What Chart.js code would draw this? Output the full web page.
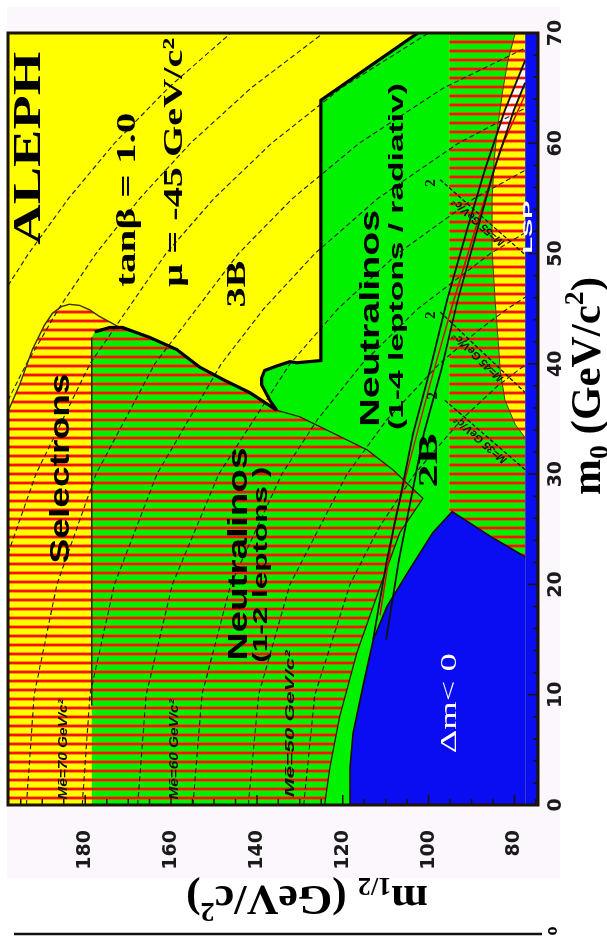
<!DOCTYPE html>
<html>
<head>
<meta charset="utf-8">
<title>ALEPH m0 - m1/2 exclusion</title>
<script src="https://cdn.jsdelivr.net/npm/chart.js@4.4.1/dist/chart.umd.min.js"></script>
<style>
  html, body { margin: 0; padding: 0; background: #ffffff; overflow: hidden; }
  /* the plot is laid out landscape and turned a quarter turn counter-clockwise */
  #stage { position: absolute; left: 0; top: 0; width: 939px; height: 607px;
           transform-origin: 0 0; transform: translateY(939px) rotate(-90deg); }
  #stage canvas { display: block; }
</style>
</head>
<body>
<div id="stage"><canvas id="plot" width="939" height="607"></canvas></div>
<script>
// ---------------- axes ----------------
const M0_RANGE = [0, 70];
const M12_RANGE = [74.5, 198];
const M0_TICKS = [0, 10, 20, 30, 40, 50, 60, 70];
const M12_TICKS = [80, 100, 120, 140, 160, 180];
const M0_MINOR_TICKS = [2,4,6,8,12,14,16,18,22,24,26,28,32,34,36,38,42,44,46,48,52,54,56,58,62,64,66,68];
const M12_MINOR_TICKS = [75,85,90,95,105,110,115,125,130,135,145,150,155,165,170,175,185,190,195];

// ---------------- regions, points are [m0, m1/2] ----------------
const ALLOWED = [[0,74.5],[70,74.5],[70,198],[0,198]];
const SELECTRON_EXCL = [[0,198],[35.7,198],[38.1,195.3],[41.3,192.3],[43.5,189.5],[44.6,187.6],[45.2,185.5],[45.4,183.7],[45.3,181.3],[44.9,179.0],[44.3,176.7],[43.8,174.3],[43.3,172.0],[43.2,170.6],[0,170.6]];
const NEUTRALINO_12L = [[0,178.5],[42.4,178.5],[42.9,177.8],[43.3,174.3],[43.3,171.3],[42.4,165.0],[41.3,158.7],[39.7,153.3],[38.5,147.5],[37.4,141.7],[35.8,135.4],[35.2,130.0],[32.2,114.3],[30.4,108.3],[27.8,101.3],[24.7,106.7],[19.8,111.3],[13.8,116.7],[8.0,120.7],[3.4,123.0],[0,124.2]];
const NEUTRALINO_14L = [[70,102.5],[70,95.2],[26.6,95.2],[26.6,94.5],[24.7,99.0],[21.0,105.0],[18.0,109.7],[15.0,112.9],[10.7,115.3],[6.5,117.6],[3.4,118.3],[0,118.3],[0,124.2],[3.4,123.0],[8.0,120.7],[13.8,116.7],[19.8,111.3],[24.7,106.7],[27.8,101.3],[30.4,108.3],[32.2,114.3],[35.2,130.0],[35.8,135.4],[36.7,137.0],[38.1,138.9],[38.7,138.9],[39.4,138.2],[39.8,135.4],[40.2,132.3],[40.1,130.7],[40.3,125.1],[63.9,125.1]];
const RIGHT_HATCH = [[70,95.2],[70,77.5],[22.5,77.5],[26.6,94.5],[26.6,95.2]];
const RIGHT_SELECTRON = [[70,79.8],[67.5,81.5],[64.8,82.7],[61.2,84.0],[58.5,84.7],[54.9,85.2],[50.3,85.2],[45.8,84.5],[42.2,83.8],[39.4,83.3],[36.7,82.2],[34.5,79.8],[33.3,77.5],[70,77.5]];
const DM_NEGATIVE = [[0,118.3],[3.4,118.3],[6.5,117.6],[10.7,115.3],[15.0,112.9],[18.0,109.7],[21.0,105.0],[24.7,99.0],[26.6,94.5],[24.4,85.7],[22.5,77.5],[0,77.5]];
const LSP_STRIP = [[0,74.5],[70,74.5],[70,77.5],[0,77.5]];
const LIMIT_BAND = [[61,83.9],[63.0,82.2],[67.5,77.5],[65.5,77.5],[63.0,80.1],[61,81.8]];

// ---------------- boundary lines ----------------
const SELECTRON_EDGE = [[35.7,198],[38.1,195.3],[41.3,192.3],[43.5,189.5],[44.6,187.6],[45.2,185.5],[45.4,183.7],[45.3,181.3],[44.9,179.0],[44.3,176.7],[43.8,174.3],[43.3,172.0],[42.4,165.0]];
const RIGHT_SELECTRON_EDGE = [[70,79.8],[67.5,81.5],[64.8,82.7],[61.2,84.0],[58.5,84.7],[54.9,85.2],[50.3,85.2],[45.8,84.5],[42.2,83.8],[39.4,83.3],[36.7,82.2],[34.5,79.8],[33.3,77.5]];
const CHARGINO_EDGE = [[42.9,177.8],[43.3,174.3],[43.3,171.3],[42.4,165.0],[41.3,158.7],[39.7,153.3],[38.5,147.5],[37.4,141.7],[35.8,135.4]];
const THREE_B_EDGE = [[70,102.5],[63.9,125.1],[40.3,125.1],[40.1,130.7],[40.2,132.3],[39.8,135.4],[39.4,138.2],[38.7,138.9],[38.1,138.9],[36.7,137.0],[35.8,135.4]];
const HATCH_EDGE = [[35.8,135.4],[35.2,130.0],[32.2,114.3],[30.4,108.3],[27.8,101.3],[24.7,106.7],[19.8,111.3],[13.8,116.7],[8.0,120.7],[3.4,123.0],[0,124.2]];
const DM_EDGE = [[0,118.3],[3.4,118.3],[6.5,117.6],[10.7,115.3],[15.0,112.9],[18.0,109.7],[21.0,105.0],[24.7,99.0],[26.6,94.5],[24.4,85.7],[22.5,77.5]];
const SELECTRON_DIVIDER = [[9,178.5],[42.4,178.5]];
const LIMIT_A = [[15.0,112.9],[22.2,109.7],[27.7,106.7],[33.7,103.6],[39.4,99.7],[45.8,95.7],[52.1,91.1],[57.6,86.9],[63.0,82.2],[67.5,77.5]];
const LIMIT_B = [[15.0,109.9],[22.2,106.9],[27.7,104.1],[33.7,101.1],[39.4,97.1],[45.8,93.2],[52.1,88.7],[57.6,84.7],[63.0,80.1],[65.5,77.5]];
const LIMIT_RED = [[17.2,111.3],[25.8,107.9],[31.3,104.3],[38.1,99.7],[45.3,94.5],[52.1,89.2],[59.4,83.3],[64.4,77.5]];

// ---------------- selectron mass contours ----------------
const ME50 = [[0,129.1],[10,126.5],[20,118.3],[25,111.8],[30,103.3],[35,92.2],[38,83.9],[40.8,74.5]];
const ME55 = [[0,142.0],[10,139.6],[20,132.3],[30,119.0],[35,109.6],[40,97.5],[43,88.5],[45,81.6],[46.8,74.5]];
const ME60 = [[0,154.9],[10,152.8],[20,146.1],[30,134.2],[35,125.8],[40,115.5],[45,102.5],[50,85.6],[52.6,74.5]];
const ME65 = [[0,167.8],[10,165.8],[20,159.7],[30,148.9],[40,132.3],[45,121.1],[50,107.2],[55,89.4],[58.2,74.5]];
const ME70 = [[0,180.7],[10,178.9],[20,173.2],[30,163.3],[40,148.3],[45,138.4],[50,126.5],[55,111.8],[60,93.1],[63.8,74.5]];
const ME75 = [[0,193.7],[10,191.9],[20,186.6],[30,177.5],[40,163.8],[50,144.3],[55,131.7],[60,116.2],[65,96.6],[69.2,74.5]];
const ME80 = [[22.8,198],[30,191.5],[40,178.9],[50,161.2],[55,150.0],[60,136.6],[65,120.4],[70,100.0]];
const ME85 = [[36.7,198],[40,193.7],[45,186.2],[50,177.5],[55,167.3],[60,155.5],[65,141.4],[70,124.5]];
const ME90 = [[47.1,198],[50,193.2],[55,183.9],[60,173.2],[65,160.7],[70,146.1]];

// ---------------- second-neutralino mass lines in the low m1/2 strip ----------------
const MX_A = [[56.7,97.3],[49.9,77.5]];
const MX_B = [[44.7,97.3],[37.4,77.5]];
const MX_C = [[36.7,96.2],[30.4,77.5]];

// ---------------- annotations: text, anchor [m0 at text start, m1/2 at text centre] ----------------
const NOTES = [
  ['ALEPH', 50.8, 193.0],
  ['tanβ = 1.0', 47.0, 170.0],
  ['μ = -45 GeV/c²', 47.0, 159.2],
  ['Selectrons', 21.9, 185.5],
  ['3B', 45.1, 144.5],
  ['Neutralinos', 13.1, 144.0],
  ['(1-2 leptons )', 12.9, 138.9],
  ['Neutralinos', 34.3, 113.2],
  ['(1-4 leptons / radiativ)', 34.0, 107.3],
  ['2B', 28.8, 99.7],
  ['Δm< 0', 4.7, 95.0],
  ['LSP', 50.0, 76.6],
  ['Mẽ=70 GeV/c²', 0.5, 185.0],
  ['Mẽ=60 GeV/c²', 0.5, 159.2],
  ['Mẽ=50 GeV/c²', 0.7, 132.1],
  ['2', 56.4, 99.5],
  ['2', 44.4, 99.5],
  ['2', 37.1, 99.0]
];
// labels laid along the strip lines: text, line it follows
const LINE_NOTES = [
  ['M=55 GeV/c²', MX_A],
  ['M=45 GeV/c²', MX_B],
  ['M=35 GeV/c²', MX_C]
];

// ---------------- styles ----------------
const SERIF = '"Liberation Serif", "Times New Roman", serif';
const SANS = '"Liberation Sans", Arial, sans-serif';
const NOTE_STYLE = [
  { font: 'bold 40px ' + SERIF, len: 193, color: '#000' },
  { font: 'bold 28px ' + SERIF, len: 174, color: '#000' },
  { font: 'bold 28px ' + SERIF, len: 249, color: '#000' },
  { font: 'bold 27px ' + SANS, len: 190, color: '#000' },
  { font: 'bold 28px ' + SERIF, len: 47, color: '#000' },
  { font: 'bold 27px ' + SANS, len: 213, color: '#000' },
  { font: 'bold 21px ' + SANS, len: 196, color: '#000' },
  { font: 'bold 27px ' + SANS, len: 217, color: '#000' },
  { font: 'bold 21px ' + SANS, len: 347, color: '#000' },
  { font: 'bold 28px ' + SERIF, len: 54, color: '#000' },
  { font: '24px ' + SERIF, len: 100, color: '#ffffff' },
  { font: 'bold 12px ' + SANS, len: 53, color: '#ffffff' },
  { font: 'bold italic 12px ' + SANS, len: 100, color: '#111' },
  { font: 'bold italic 12px ' + SANS, len: 100, color: '#111' },
  { font: 'bold italic 12px ' + SANS, len: 147, color: '#111' },
  { font: 'bold 15px ' + SERIF, len: 0, color: '#111' },
  { font: 'bold 15px ' + SERIF, len: 0, color: '#111' },
  { font: 'bold 15px ' + SERIF, len: 0, color: '#111' }
];
const LINE_NOTE_FONT = 'bold italic 11px ' + SANS;

const plotCanvas = document.getElementById('plot');
const plotCtx = plotCanvas.getContext('2d');

// red-lined hatching, lines run at constant m0
function stripes(base, halo, line) {
  const tile = document.createElement('canvas');
  tile.width = 9; tile.height = 1;
  const g = tile.getContext('2d');
  [base, base, base, base, halo, line, line, halo, base].forEach((c, i) => {
    g.fillStyle = c; g.fillRect(i, 0, 1, 1);
  });
  return plotCtx.createPattern(tile, 'repeat');
}
const YELLOW = '#ffff00';
const GREEN = '#00f200';
const BLUE = '#0a0cf2';
const HATCH_ORANGE = stripes('#ffff00', '#ff9a00', '#f81200');
const HATCH_GREEN = stripes('#00f000', '#7c9000', '#f81200');
const HATCH_PALE = stripes('#fff6f6', '#f2b0b0', '#f01000');

const pts = a => a.map(p => ({ x: p[0], y: p[1] }));
const datasets = [];
function area(label, a, fill, order) {
  datasets.push({ label, data: pts(a), fill: 'shape', backgroundColor: fill,
    borderColor: 'rgba(0,0,0,0)', borderWidth: 0, borderDash: [1, 0],
    pointRadius: 0, tension: 0, order });
}
function curve(label, a, color, width, dash, order) {
  datasets.push({ label, data: pts(a), fill: false, borderColor: color, borderWidth: width,
    borderDash: dash, pointRadius: 0, tension: 0, order, borderCapStyle: 'butt' });
}

area('allowed', ALLOWED, YELLOW, 100);
area('selectrons', SELECTRON_EXCL, HATCH_ORANGE, 95);
area('neutralinos 1-2 leptons', NEUTRALINO_12L, HATCH_GREEN, 90);
area('neutralinos 1-4 leptons', NEUTRALINO_14L, GREEN, 85);
area('hatched strip', RIGHT_HATCH, HATCH_GREEN, 80);
area('selectrons (low m1/2)', RIGHT_SELECTRON, HATCH_ORANGE, 75);
area('limit band', LIMIT_BAND, HATCH_PALE, 72);
[ME50, ME55, ME60, ME65, ME70, ME75, ME80, ME85, ME90].forEach((c, i) =>
  curve('m_selectron ' + (50 + 5 * i), c, '#1e1e1e', 1.1, [5, 3], 60));
[MX_A, MX_B, MX_C].forEach((c, i) => curve('m_neutralino ' + i, c, '#141414', 1.3, [4, 2], 58));
area('dm < 0', DM_NEGATIVE, BLUE, 50);
area('LSP', LSP_STRIP, BLUE, 49);
curve('selectron edge', SELECTRON_EDGE, '#3a3000', 1.4, [], 40);
curve('selectron edge 2', RIGHT_SELECTRON_EDGE, '#5a3a00', 1.0, [], 40);
curve('divider', SELECTRON_DIVIDER, '#2a2200', 1.4, [], 40);
curve('hatch edge', HATCH_EDGE, '#3a1400', 1.3, [], 40);
curve('dm edge', DM_EDGE, '#1a0a0a', 1.6, [], 40);
curve('chargino edge', CHARGINO_EDGE, '#000000', 3.2, [], 30);
curve('3B edge', THREE_B_EDGE, '#000000', 3.2, [], 30);
curve('limit red', LIMIT_RED, '#e00000', 1.5, [], 25);
curve('limit a', LIMIT_A, '#111111', 1.8, [], 20);
curve('limit b', LIMIT_B, '#111111', 1.8, [], 20);

function richText(ctx, parts, family, len) {
  let w = 0;
  parts.forEach(p => { ctx.font = 'bold ' + p.size + 'px ' + family; p.w = ctx.measureText(p.t).width; w += p.w; });
  if (len) ctx.scale(len / w, 1);
  let x = 0;
  parts.forEach(p => { ctx.font = 'bold ' + p.size + 'px ' + family; ctx.fillText(p.t, x, p.dy || 0); x += p.w; });
}

const decor = {
  id: 'decor',
  beforeDraw(chart) {
    const ctx = chart.ctx;
    ctx.save();
    ctx.fillStyle = '#ffffff';
    ctx.fillRect(0, 0, chart.width, chart.height);
    ctx.fillStyle = '#fcf7fc';
    ctx.fillRect(61, 7, 871, 553);
    ctx.restore();
  },
  afterDatasetsDraw(chart) {
    const ctx = chart.ctx, xs = chart.scales.x, ys = chart.scales.y;
    NOTES.forEach((n, i) => {
      const st = NOTE_STYLE[i];
      const u = xs.getPixelForValue(n[1]), v = ys.getPixelForValue(n[2]);
      ctx.save();
      ctx.font = st.font; ctx.fillStyle = st.color; ctx.textBaseline = 'middle';
      ctx.translate(u, v);
      if (st.len) {
        ctx.textAlign = 'left';
        ctx.scale(st.len / ctx.measureText(n[0]).width, 1);
      } else {
        ctx.textAlign = 'center';
      }
      ctx.fillText(n[0], 0, 0);
      ctx.restore();
    });
    // slanted labels follow their line, written from the low-m0 end
    LINE_NOTES.forEach(([t, line]) => {
      const u0 = xs.getPixelForValue(line[1][0]), v0 = ys.getPixelForValue(line[1][1]);
      const u1 = xs.getPixelForValue(line[0][0]), v1 = ys.getPixelForValue(line[0][1]);
      ctx.save();
      ctx.font = LINE_NOTE_FONT; ctx.fillStyle = '#111';
      ctx.textAlign = 'center'; ctx.textBaseline = 'bottom';
      ctx.translate((u0 + u1) / 2, (v0 + v1) / 2);
      ctx.rotate(Math.atan2(v1 - v0, u1 - u0));
      ctx.fillText(t, 0, -1);
      ctx.restore();
    });
  },
  afterDraw(chart) {
    const ctx = chart.ctx, xs = chart.scales.x, ys = chart.scales.y, a = chart.chartArea;
    ctx.save();
    ctx.strokeStyle = '#1c1400';
    ctx.lineWidth = 1.5;
    ctx.beginPath();
    M0_TICKS.forEach(t => { const u = xs.getPixelForValue(t); ctx.moveTo(u, a.bottom); ctx.lineTo(u, a.bottom - 10); });
    M0_MINOR_TICKS.forEach(t => { const u = xs.getPixelForValue(t); ctx.moveTo(u, a.bottom); ctx.lineTo(u, a.bottom - 5); });
    M12_TICKS.forEach(t => { const v = ys.getPixelForValue(t); ctx.moveTo(a.left, v); ctx.lineTo(a.left + 10, v); });
    M12_MINOR_TICKS.forEach(t => { const v = ys.getPixelForValue(t); ctx.moveTo(a.left, v); ctx.lineTo(a.left + 6, v); });
    ctx.stroke();
    ctx.lineWidth = 3;
    ctx.strokeRect(a.left, a.top, a.right - a.left, a.bottom - a.top);

    // axis titles
    ctx.fillStyle = '#000';
    ctx.textBaseline = 'alphabetic';
    ctx.textAlign = 'left';
    ctx.save();
    ctx.translate(444, 600);
    richText(ctx, [
      { t: 'm', size: 42 }, { t: '0', size: 27, dy: 8 }, { t: ' (GeV/c', size: 42 },
      { t: '2', size: 27, dy: -17 }, { t: ')', size: 42 }
    ], SERIF, 218);
    ctx.restore();
    ctx.save();
    ctx.translate(53, 428);
    ctx.rotate(-Math.PI / 2);
    richText(ctx, [
      { t: 'm', size: 42 }, { t: '1/2', size: 25, dy: 8 }, { t: ' (GeV/c', size: 42 },
      { t: '2', size: 27, dy: -17 }, { t: ')', size: 42 }
    ], SERIF, 242);
    ctx.restore();

    // frame edge of the neighbouring panel
    ctx.strokeStyle = '#111';
    ctx.lineWidth = 2.5;
    ctx.beginPath(); ctx.moveTo(5, 14); ctx.lineTo(5, 542); ctx.stroke();
    ctx.font = 'bold 13px "DejaVu Sans", sans-serif';
    ctx.textAlign = 'center'; ctx.textBaseline = 'middle';
    ctx.fillText('0', 8, 554);
    ctx.restore();
  }
};

const tickFont = { family: '"DejaVu Sans", sans-serif', weight: 'bold', size: 19 };

new Chart(plotCanvas, {
  type: 'line',
  data: { datasets },
  options: {
    responsive: false,
    animation: false,
    devicePixelRatio: 1,
    events: [],
    layout: { padding: { left: 0, right: 33, top: 8, bottom: 0 } },
    plugins: { legend: { display: false }, tooltip: { enabled: false }, title: { display: false } },
    scales: {
      x: {
        type: 'linear', position: 'bottom', min: M0_RANGE[0], max: M0_RANGE[1],
        afterFit(s) { s.height = 69; s.paddingLeft = 0; s.paddingRight = 0; },
        afterBuildTicks(s) { s.ticks = M0_TICKS.map(v => ({ value: v })); },
        ticks: { font: tickFont, color: '#1a1a1a', padding: 7, maxRotation: 0, autoSkip: false },
        grid: { display: false, drawTicks: false },
        border: { display: false }
      },
      y: {
        type: 'linear', position: 'left', min: M12_RANGE[0], max: M12_RANGE[1],
        afterFit(s) { s.width = 134; s.paddingTop = 0; s.paddingBottom = 0; },
        afterBuildTicks(s) { s.ticks = M12_TICKS.map(v => ({ value: v })); },
        ticks: { font: tickFont, color: '#1a1a1a', padding: 25, autoSkip: false },
        grid: { display: false, drawTicks: false },
        border: { display: false }
      }
    }
  },
  plugins: [decor]
});
</script>
</body>
</html>
